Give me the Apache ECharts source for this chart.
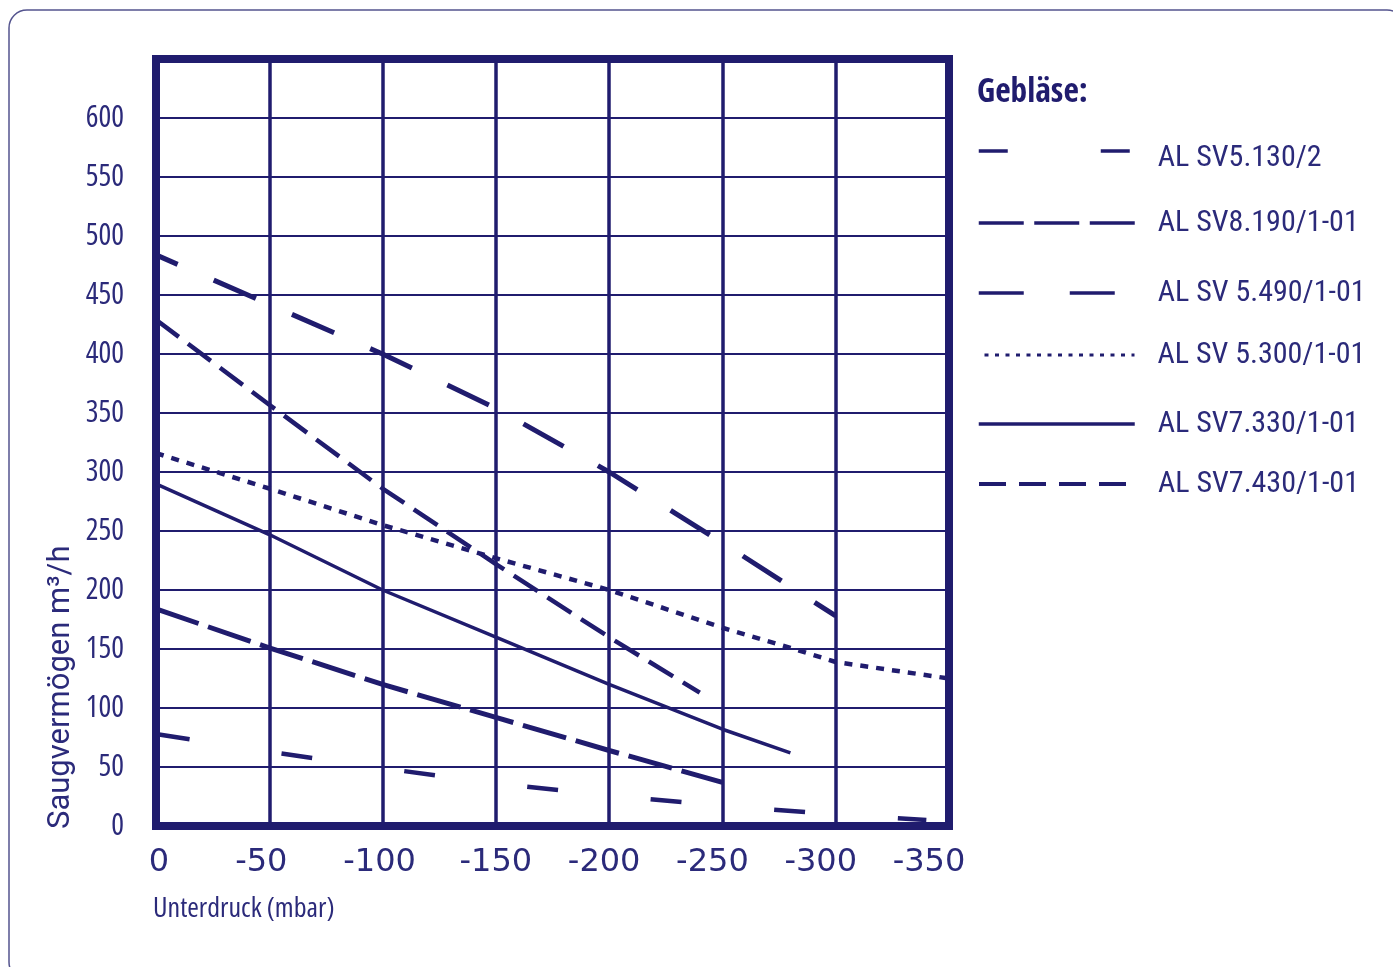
<!DOCTYPE html>
<html>
<head>
<meta charset="utf-8">
<script src="https://cdn.jsdelivr.net/npm/echarts@6/dist/echarts.min.js"></script>
<style>
html,body{margin:0;padding:0;background:#ffffff;}
#chart{width:1393px;height:967px;}
</style>
</head>
<body>
<div id="chart"></div>
<script>
// ---- data (x = Unterdruck in mbar, y = Saugvermögen in m³/h) ----
const seriesNames = ['AL SV5.130/2', 'AL SV8.190/1-01', 'AL SV 5.490/1-01', 'AL SV 5.300/1-01', 'AL SV7.330/1-01', 'AL SV7.430/1-01'];
const sv5130 = [[0, 78], [-50, 63], [-100, 49], [-150, 36], [-200, 26], [-250, 17], [-300, 10], [-340, 5]];
const sv8190 = [[0, 484], [-50, 442], [-100, 400], [-150, 354], [-200, 300], [-250, 240], [-300, 178]];
const sv5490 = [[0, 429], [-50, 357], [-100, 286], [-150, 222], [-200, 160], [-240, 113]];
const sv5300 = [[0, 316], [-50, 286], [-100, 255], [-150, 227], [-200, 200], [-250, 168], [-280, 151], [-300, 139], [-350, 125]];
const sv7330 = [[0, 290], [-50, 247], [-100, 200], [-150, 160], [-200, 120], [-250, 82], [-280, 62]];
const sv7430 = [[0, 184], [-50, 151], [-100, 120], [-150, 92], [-200, 64], [-250, 37]];
const xMin = -350, xMax = 0, xStep = 50;
const yMin = 0, yMax = 650, yStep = 50, yLabelMax = 600;
const legendTitle = 'Gebläse:';
const yName = 'Saugvermögen m³/h';
const xName = 'Unterdruck (mbar)';

const NAVY = '#201c6e';
const TXT = '#2b2a7a';
const COND = '"Roboto Condensed", "DejaVu Sans Condensed", sans-serif';
const LIGHTCOND = '"Open Sans", "DejaVu Sans Condensed", sans-serif';

const seriesData = [sv5130, sv8190, sv5490, sv5300, sv7330, sv7430];
const seriesStyles = [
  {type: [31, 93], width: 4.5, dashOffset: 121},
  {type: [46, 39.4], width: 5, dashOffset: 22.4},
  {type: [28.5, 11.5], width: 4.5, dashOffset: 0},
  {type: [8, 8], width: 4.5, dashOffset: 0},
  {type: 'solid', width: 3.5, dashOffset: 0},
  {type: [45, 10], width: 5, dashOffset: 0}
];
const legendStyles = [
  {type: [29, 93], width: 3.5, dashOffset: 0},
  {type: [45, 10.5], width: 3.5, dashOffset: 0},
  {type: [45, 46], width: 3.5, dashOffset: 0},
  {type: [4, 6.5], width: 3, dashOffset: 4.5},
  {type: 'solid', width: 3.5, dashOffset: 0},
  {type: [27, 13], width: 4, dashOffset: 0}
];
const legendLineY = [150, 223, 293, 355, 424, 484];
// horizontal shift of each x tick label (px), left to right
const xLabelShift = [3, -8, -3, 0, -5, -10, -15, -20];

const series = seriesNames.map((name, i) => ({
  name: name,
  type: 'line',
  data: seriesData[i],
  symbol: 'none',
  smooth: false,
  lineStyle: {color: NAVY, width: seriesStyles[i].width, type: seriesStyles[i].type, dashOffset: seriesStyles[i].dashOffset, cap: 'butt'},
  itemStyle: {color: NAVY},
  z: 5
}));

const legends = seriesNames.map((name, i) => ({
  data: [name],
  left: 977,
  top: i === 0 ? legendLineY[i] - 7 : legendLineY[i] - 15,
  orient: 'vertical',
  padding: 0,
  itemWidth: 156,
  itemHeight: 14,
  selectedMode: false,
  lineStyle: {type: legendStyles[i].type, width: legendStyles[i].width, dashOffset: legendStyles[i].dashOffset, color: NAVY},
  itemStyle: {opacity: 0, color: 'rgba(0,0,0,0)', borderWidth: 0},
  formatter: i === 0 ? '{p|{name}}' : '{name}',
  textStyle: {
    fontFamily: COND, fontSize: 30, color: TXT,
    padding: [0, 0, 0, 18],
    rich: {p: {fontFamily: COND, fontSize: 30, color: TXT, padding: [14, 0, 0, 0]}}
  }
}));

const xLabelRich = {};
xLabelShift.forEach((s, i) => {
  xLabelRich['s' + i] = {fontFamily: 'DejaVu Sans', fontSize: 32, color: TXT,
    padding: s >= 0 ? [0, 0, 0, 2 * s] : [0, -2 * s, 0, 0]};
});

const chart = echarts.init(document.getElementById('chart'), null, {renderer: 'canvas'});
chart.setOption({
  backgroundColor: '#ffffff',
  animation: false,
  title: {
    text: legendTitle, left: 977, top: 75, padding: 0,
    textStyle: {fontFamily: '"Open Sans Condensed", "Roboto Condensed", sans-serif', fontSize: 33.5, fontWeight: 'bold', color: NAVY, lineHeight: 36}
  },
  legend: legends,
  grid: {
    left: 156, right: 444, top: 59, bottom: 141,
    show: true, borderColor: NAVY, borderWidth: 8, backgroundColor: 'transparent'
  },
  xAxis: {
    type: 'value', min: xMin, max: xMax, interval: xStep, inverse: true,
    axisLine: {show: false}, axisTick: {show: false},
    splitLine: {show: true, lineStyle: {color: NAVY, width: 3.5}},
    axisLabel: {fontFamily: 'DejaVu Sans', fontSize: 32, color: TXT, margin: 21, showMinLabel: true, showMaxLabel: true,
      formatter: (v) => '{s' + Math.round(-v / xStep) + '|' + v + '}', rich: xLabelRich}
  },
  yAxis: {
    type: 'value', min: yMin, max: yMax, interval: yStep,
    axisLine: {show: false}, axisTick: {show: false},
    splitLine: {show: true, lineStyle: {color: NAVY, width: 2}},
    axisLabel: {fontFamily: LIGHTCOND, fontStyle: 'condensed', fontSize: 30, color: TXT, margin: 32,
      padding: [0, 0, 10, 0],
      formatter: v => (v > yLabelMax ? '' : String(v))}
  },
  graphic: [
    {type: 'rect', silent: true, z: -10,
     shape: {x: 9, y: 10, width: 1396, height: 970, r: 18},
     style: {fill: 'none', stroke: '#54548e', lineWidth: 1.5}},
    {type: 'text', silent: true, x: 61, y: 829, rotation: Math.PI / 2,
     style: {text: yName, fontFamily: 'Roboto', fontSize: 31, fill: TXT, align: 'left', verticalAlign: 'middle'}},
    {type: 'text', silent: true, x: 153, y: 909,
     style: {text: xName, fontFamily: LIGHTCOND, fontStyle: 'condensed', fontSize: 28, fill: TXT, align: 'left', verticalAlign: 'middle'}}
  ],
  series: series
});
</script>
</body>
</html>
